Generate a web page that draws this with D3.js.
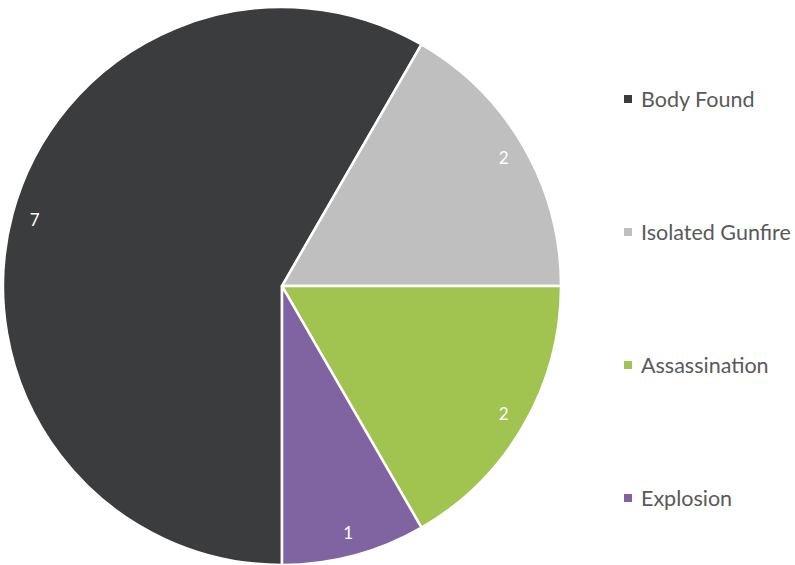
<!DOCTYPE html>
<html>
<head>
<meta charset="utf-8">
<script src="https://cdn.jsdelivr.net/npm/d3@7"></script>
<style>
  body { margin: 0; background: #fff; }
  svg { display: block; }
</style>
</head>
<body>
<div id="chart"></div>
<script>
// chart data
var categories = ["Body Found", "Isolated Gunfire", "Assassination", "Explosion"];
var counts = [7, 2, 2, 1];
var colors = ["#3b3c3e", "#bfbfbf", "#a1c450", "#8064a2"];

var width = 795, height = 565;
var cx = 282, cy = 286, radius = 279;

var svg = d3.select("#chart").append("svg")
    .attr("width", width)
    .attr("height", height);

var g = svg.append("g")
    .attr("transform", "translate(" + cx + "," + cy + ")");

// first slice starts at 180 degrees, clockwise
var pie = d3.pie()
    .sort(null)
    .startAngle(Math.PI)
    .endAngle(3 * Math.PI)
    .value(d => d);

var arc = d3.arc().innerRadius(0).outerRadius(radius);
var labelArc = d3.arc().innerRadius(256).outerRadius(256);

var arcs = pie(counts);

g.selectAll("path.slice")
    .data(arcs)
    .enter().append("path")
    .attr("class", "slice")
    .attr("d", arc)
    .attr("fill", (d, i) => colors[i])
    .attr("stroke", "#fff")
    .attr("stroke-width", 2.5)
    .attr("stroke-linejoin", "round");

g.selectAll("text.lbl")
    .data(arcs)
    .enter().append("text")
    .attr("class", "lbl")
    .attr("transform", d => "translate(" + labelArc.centroid(d) + ")")
    .attr("text-anchor", "middle")
    .attr("dy", "0.35em")
    .attr("font-family", "Lato, 'Open Sans', sans-serif")
    .attr("font-size", 17)
    .attr("fill", "#fff")
    .text(d => d.data);

// legend
var legendY = d3.scalePoint()
    .domain(categories)
    .range([99, 498]);

var legend = svg.selectAll("g.legend")
    .data(categories)
    .enter().append("g")
    .attr("class", "legend")
    .attr("transform", d => "translate(624," + legendY(d) + ")");

legend.append("rect")
    .attr("x", 0)
    .attr("y", -4)
    .attr("width", 8)
    .attr("height", 8)
    .attr("fill", (d, i) => colors[i]);

legend.append("text")
    .attr("x", 17)
    .attr("dy", "0.35em")
    .attr("font-family", "Lato, 'Open Sans', sans-serif")
    .attr("font-size", 21.5)
    .attr("fill", "#595959")
    .text(d => d);
</script>
</body>
</html>
